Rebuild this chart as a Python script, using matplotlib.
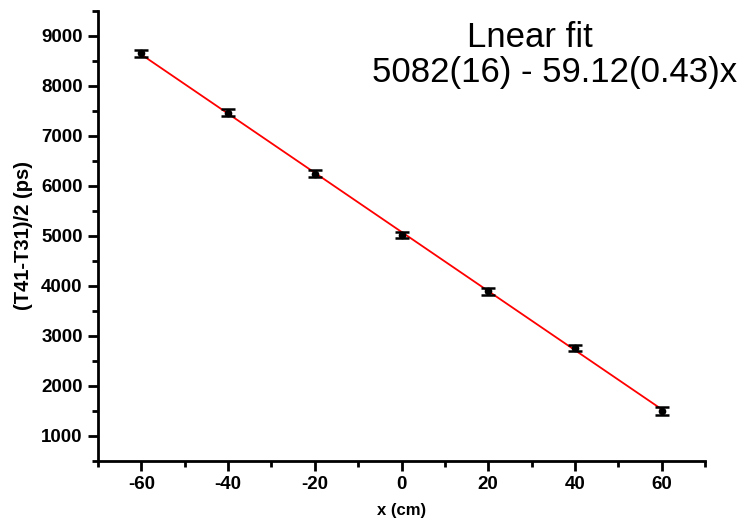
import matplotlib
matplotlib.use("Agg")
import matplotlib.pyplot as plt
import numpy as np
from matplotlib.ticker import MultipleLocator

x = [-60, -40, -20, 0, 20, 40, 60]
y = [8660, 7470, 6250, 5020, 3900, 2770, 1510]
yerr = [70, 70, 70, 60, 70, 60, 80]
intercept = 5082
slope = -59.12

plt.rcParams['font.family'] = ['Liberation Sans', 'DejaVu Sans']
plt.rcParams['axes.unicode_minus'] = False
fig = plt.figure(figsize=(7.43, 5.23), dpi=100)
ax = fig.add_axes([98/743, 62/523, (705-98)/743, (461-11)/523])

xf = np.array([min(x), max(x)])
ax.plot(xf, intercept + slope * xf, color='red', lw=1.3, zorder=2)
ax.errorbar(x, y, yerr=yerr, fmt='o', color='black', ms=4.5, capsize=5,
            elinewidth=1.2, capthick=1.8, zorder=3)

ax.set_xlim(-70, 70)
ax.set_ylim(500, 9500)
ax.xaxis.set_major_locator(MultipleLocator(20))
ax.xaxis.set_minor_locator(MultipleLocator(10))
ax.yaxis.set_major_locator(MultipleLocator(1000))
ax.yaxis.set_minor_locator(MultipleLocator(500))
for s in ['top', 'right']:
    ax.spines[s].set_visible(False)
for s in ['left', 'bottom']:
    ax.spines[s].set_linewidth(2)
ax.tick_params(which='major', direction='out', length=7, width=2, labelsize=13.5, pad=4)
ax.tick_params(which='minor', direction='out', length=4, width=2)
for lab in ax.get_xticklabels() + ax.get_yticklabels():
    lab.set_fontweight('bold')
ax.set_xlabel('x (cm)', fontsize=12, fontweight='bold', labelpad=7)
ax.set_ylabel('(T41-T31)/2 (ps)', fontsize=14.5, fontweight='bold', labelpad=6)

fig.text(530/743, 1 - 47/523, 'Lnear fit', fontsize=25, ha='center', va='baseline')
fig.text(737/743, 1 - 82/523, '5082(16) - 59.12(0.43)x', fontsize=25, ha='right', va='baseline')

fig.savefig('out.png', dpi=100)
